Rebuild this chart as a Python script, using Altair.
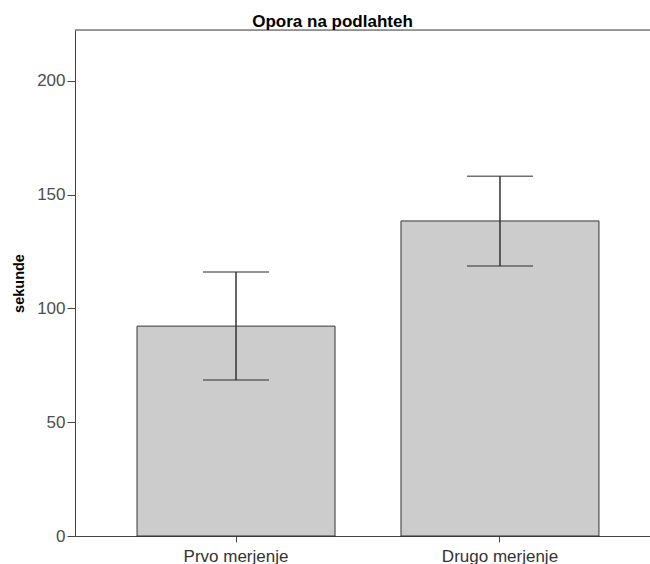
import altair as alt
import pandas as pd

categories = ["Prvo merjenje", "Drugo merjenje"]
means = [92.2, 138.4]
lower = [68.5, 118.6]
upper = [116.0, 158.1]
y_ticks = [0, 50, 100, 150, 200]
y_max = 222.3

df = pd.DataFrame({"cat": categories, "mean": means, "lo": lower, "hi": upper})

FONT = "Liberation Sans"

x_enc = alt.X(
    "cat:N",
    sort=categories,
    title=None,
    scale=alt.Scale(range=[0, 586], paddingInner=0.25, paddingOuter=0.235),
    axis=alt.Axis(
        labelAngle=0,
        labelFontSize=17,
        labelFont=FONT,
        labelColor="#333333",
        labelPadding=6,
        tickSize=6,
        tickColor="#444444",
        domainColor="#444444",
        labelBaseline="top",
    ),
)

y_scale = alt.Scale(domain=[0, y_max], nice=False, zero=True)

base = alt.Chart(df)

bars = base.mark_bar(fill="#cccccc", stroke="#333333", strokeWidth=1).encode(
    x=x_enc,
    y=alt.Y(
        "mean:Q",
        scale=y_scale,
        title="sekunde",
        axis=alt.Axis(
            values=y_ticks,
            grid=False,
            labelFontSize=17,
            labelFont=FONT,
            labelColor="#4d4d4d",
            labelPadding=2,
            tickSize=8,
            tickColor="#444444",
            domainColor="#444444",
            titleFont=FONT,
            titleFontSize=14.5,
            titleFontWeight="bold",
            titleColor="#000000",
            titleAngle=270,
            titleAlign="center",
            titleBaseline="middle",
            titleX=-56,
            titleY=253,
        ),
    ),
)

err = base.mark_rule(color="#333333", strokeWidth=1.5).encode(
    x=alt.X("cat:N", sort=categories),
    y=alt.Y("lo:Q", scale=y_scale),
    y2="hi:Q",
)

cap_hi = base.mark_tick(color="#333333", thickness=1.5, size=66).encode(
    x=alt.X("cat:N", sort=categories),
    y=alt.Y("hi:Q", scale=y_scale),
)
cap_lo = base.mark_tick(color="#333333", thickness=1.5, size=66).encode(
    x=alt.X("cat:N", sort=categories),
    y=alt.Y("lo:Q", scale=y_scale),
)

top_line = alt.Chart(pd.DataFrame({"a": [0]})).mark_rule(color="#444444", strokeWidth=1).encode(
    x=alt.value(0), x2=alt.value(575), y=alt.value(0)
)

chart = (
    alt.layer(bars, err, cap_hi, cap_lo, top_line)
    .properties(
        width=575,
        height=506,
        title=alt.TitleParams(
            "Opora na podlahteh",
            font=FONT,
            fontSize=17,
            fontWeight="bold",
            color="#000000",
            anchor="middle",
            baseline="alphabetic",
            offset=3,
            dx=-30,
            dy=17,
        ),
        autosize=alt.AutoSizeParams(type="none"),
        padding={"left": 75, "top": 30, "right": 0, "bottom": 28},
    )
    .configure_view(stroke=None)
    .configure(background="white")
)

chart.save("out.html", embed_options={"renderer": "svg", "actions": False})
